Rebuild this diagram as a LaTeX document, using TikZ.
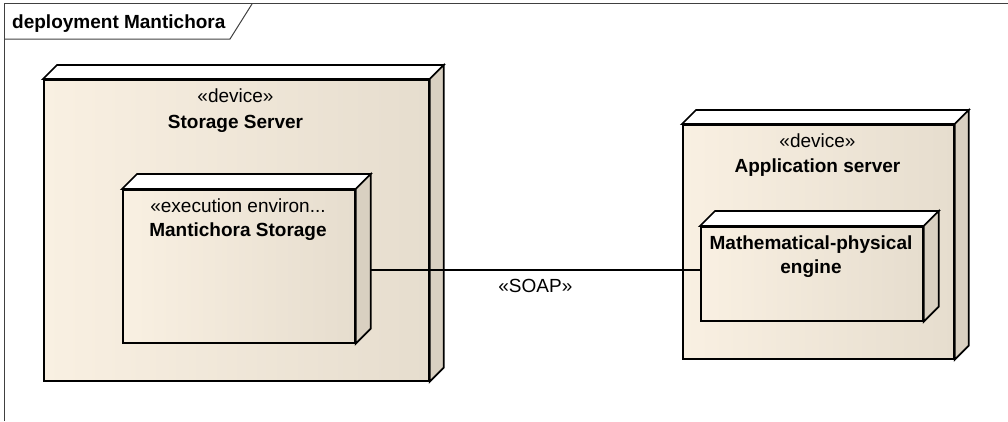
\documentclass[tikz,border=0pt]{standalone}
\usepackage{fontspec}
\setmainfont{Liberation Sans}
\definecolor{nodecream}{HTML}{F9F0E2}
\definecolor{nodetan}{HTML}{E6DDCE}
\definecolor{nodeside}{HTML}{D9D0C1}
\definecolor{framegray}{HTML}{404040}
% top and right faces of a 3D UML node drawn behind the front face #1, depth #2
\newcommand\umlfaces[2]{%
  \draw[topface] (#1.north west) -- ++(#2,-#2) -- ([shift={(#2,-#2)}]#1.north east) -- (#1.north east) -- cycle;
  \draw[sideface] (#1.north east) -- ++(#2,-#2) -- ([shift={(#2,-#2)}]#1.south east) -- (#1.south east) -- cycle;
}
\begin{document}
\begin{tikzpicture}[x=1pt,y=-1pt,
  front/.style={draw, line width=1.7pt, inner sep=0pt, anchor=north west,
    left color=nodecream, middle color=nodecream, right color=nodetan},
  topface/.style={draw, line width=1.7pt, fill=white},
  sideface/.style={draw, line width=1.7pt, fill=nodeside},
  stereo/.style={anchor=base, inner sep=0pt, font=\fontsize{19}{22}\selectfont},
  title/.style={anchor=base, inner sep=0pt, font=\fontsize{19}{22}\selectfont\bfseries},
  framestyle/.style={draw=framegray, line width=1pt},
]
\useasboundingbox (0,0) rectangle (1008,421);

% diagram frame with its name tab
\draw[framestyle] (4,421) -- (4,3) -- (1008,3);
\draw[framestyle] (4,39) -- (230,39) -- (252,4);
\node[title, anchor=base west] (frametitle) at (12,28) {deployment Mantichora};

% Storage Server device
\node[front, minimum width=385pt, minimum height=301pt] (ss) at (43,79) {};
\umlfaces{ss}{14}
\node[stereo] (ssst) at (235.5,102) {«device»};
\node[title] (ssname) at (235.5,128) {Storage Server};

% execution environment inside it
\node[front, minimum width=232pt, minimum height=153pt] (exec) at (122,189) {};
\umlfaces{exec}{15}
\node[stereo] (execst) at (238,212) {«execution environ...};
\node[title] (execname) at (238,236) {Mantichora Storage};

% Application server device
\node[front, minimum width=271pt, minimum height=234pt] (app) at (682,124) {};
\umlfaces{app}{14}
\node[stereo] (appst) at (817.5,147) {«device»};
\node[title] (appname) at (817.5,172) {Application server};

% engine node inside it
\node[front, minimum width=222pt, minimum height=94pt] (math) at (700,226) {};
\umlfaces{math}{15}
\node[title] (mathname1) at (811,249) {Mathematical-physical};
\node[title] (mathname2) at (811,273) {engine};

% SOAP communication path
\path (exec.east) ++(15,3.5) coordinate (soapL);
\draw[line width=1.3pt] (soapL) -- (soapL -| math.west)
  node[midway, stereo, yshift=-23pt] (soap) {«SOAP»};
\end{tikzpicture}
\end{document}
